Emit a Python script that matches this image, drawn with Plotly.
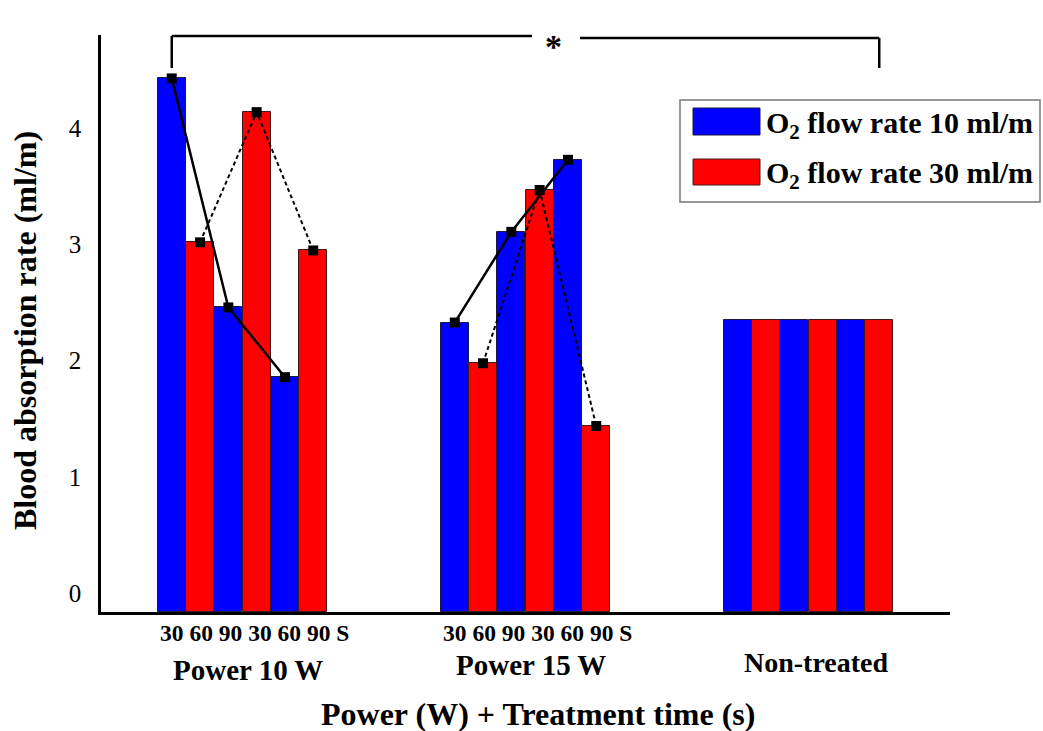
import plotly.graph_objects as go

# ---------------- data ----------------
groups = ["Power 10 W", "Power 15 W", "Non-treated"]
time_labels = "30 60 90 30 60 90 S"
series_names = ["O<sub>2</sub> flow rate 10 ml/m", "O<sub>2</sub> flow rate 30 ml/m"]
# three bars per group for each flow rate (30, 60, 90 s); non-treated is a constant reference
flow10 = [4.59, 2.62, 2.02, 2.49, 3.27, 3.89, 2.51, 2.51, 2.51]
flow30 = [3.18, 4.30, 3.11, 2.14, 3.63, 1.60, 2.51, 2.51, 2.51]
yticks = [0, 1, 2, 3, 4]
signif_mark = "*"

# ---------------- layout helpers ----------------
W, H = 1043, 731
L, R, T, B = 101, 950, 35, 612          # plot area in pixels
BAR_W = 0.0997
off10 = [-0.25, -0.05, 0.15]
off30 = [-0.15, 0.05, 0.25]
FONT = "Liberation Serif, Times New Roman, serif"
BLUE, RED = "#0000FF", "#FF0000"

def px(xp):
    return (xp - L) / (R - L)

def py(yp):
    return (B - yp) / (B - T)

x10 = [g + o for g in range(len(groups)) for o in off10]
x30 = [g + o for g in range(len(groups)) for o in off30]

fig = go.Figure()
fig.add_trace(go.Bar(x=x10, y=flow10, width=BAR_W, name=series_names[0],
                     marker=dict(color=BLUE, line=dict(color="#1a1a40", width=1)),
                     showlegend=False))
fig.add_trace(go.Bar(x=x30, y=flow30, width=BAR_W, name=series_names[1],
                     marker=dict(color=RED, line=dict(color="#401a1a", width=1)),
                     showlegend=False))

# connecting lines for the treated groups
def joined(xs, ys, ngroups=2):
    ox, oy = [], []
    for g in range(ngroups):
        ox += xs[3 * g:3 * g + 3] + [None]
        oy += ys[3 * g:3 * g + 3] + [None]
    return ox, oy

lx, ly = joined(x10, flow10)
fig.add_trace(go.Scatter(x=lx, y=ly, mode="lines+markers", showlegend=False,
                         line=dict(color="black", width=2.5),
                         marker=dict(symbol="square", size=10, color="black")))
lx, ly = joined(x30, flow30)
fig.add_trace(go.Scatter(x=lx, y=ly, mode="lines+markers", showlegend=False,
                         line=dict(color="black", width=2, dash="4px,3px"),
                         marker=dict(symbol="square", size=10, color="black")))

shapes = []
annotations = []

# significance bracket
x_left = x10[0]
x_right = x30[-1]
shapes += [
    dict(type="line", xref="x", yref="paper", x0=x_left, x1=x_left, y0=py(68), y1=py(36),
         line=dict(color="black", width=2.5)),
    dict(type="line", xref="x", yref="paper", x0=x_left, x1=(532 - 242.5) / 283, y0=py(36), y1=py(36),
         line=dict(color="black", width=2.5)),
    dict(type="line", xref="x", yref="paper", x0=(580 - 242.5) / 283, x1=x_right, y0=py(38), y1=py(38),
         line=dict(color="black", width=2.5)),
    dict(type="line", xref="x", yref="paper", x0=x_right, x1=x_right, y0=py(38), y1=py(68),
         line=dict(color="black", width=2.5)),
]
annotations.append(dict(text="<b>" + signif_mark + "</b>", xref="x", yref="paper",
                        x=(553 - 242.5) / 283, y=py(26), showarrow=False,
                        font=dict(family=FONT, size=34, color="black")))

# custom legend
shapes.append(dict(type="rect", xref="paper", yref="paper", x0=px(680), x1=px(1040),
                   y0=py(202), y1=py(100), line=dict(color="#777777", width=1.5),
                   fillcolor="white", layer="below"))
for i, (col, edge, top, bot) in enumerate([(BLUE, "#1a1a40", 108, 135), (RED, "#401a1a", 159, 185)]):
    shapes.append(dict(type="rect", xref="paper", yref="paper", x0=px(693), x1=px(760),
                       y0=py(bot), y1=py(top), fillcolor=col, line=dict(color=edge, width=1)))
    annotations.append(dict(text="<b>" + series_names[i] + "</b>", xref="paper", yref="paper",
                            x=px(764), y=py((top + bot) / 2 + 3), xanchor="left", yanchor="middle",
                            showarrow=False, font=dict(family=FONT, size=30, color="black")))

# x-axis labels
for g in range(2):
    annotations.append(dict(text="<b>" + time_labels + "</b>", xref="x", yref="paper",
                            x=g - 0.3, y=py(633), xanchor="left", yanchor="middle",
                            showarrow=False, font=dict(family=FONT, size=23.5, color="black")))
group_y = [670, 665, 662]
group_sz = [29, 29, 28]
group_dx = [0.02, 0.02, 0.03]
for g, name in enumerate(groups):
    annotations.append(dict(text="<b>" + name + "</b>", xref="x", yref="paper",
                            x=g + group_dx[g], y=py(group_y[g]), yanchor="middle",
                            showarrow=False, font=dict(family=FONT, size=group_sz[g], color="black")))
annotations.append(dict(text="<b>Power (W) + Treatment time (s)</b>", xref="paper", yref="paper",
                        x=px(538), y=py(714), yanchor="middle", showarrow=False,
                        font=dict(family=FONT, size=32, color="black")))
annotations.append(dict(text="<b>Blood absorption rate (ml/m)</b>", xref="paper", yref="paper",
                        x=px(25), y=py(331), textangle=-90, xanchor="center", yanchor="middle",
                        showarrow=False, font=dict(family=FONT, size=32, color="black")))

fig.update_layout(
    width=W, height=H,
    margin=dict(l=L, r=W - R, t=T, b=H - B, pad=0),
    paper_bgcolor="white", plot_bgcolor="white",
    barmode="overlay", bargap=0,
    shapes=shapes, annotations=annotations,
    font=dict(family=FONT, color="black"),
    xaxis=dict(range=[-0.5, 2.5], showline=True, linecolor="black", linewidth=3,
               showgrid=False, zeroline=False, showticklabels=False, ticks=""),
    yaxis=dict(range=[0, (B - T) / 116.25], showline=True, linecolor="black", linewidth=2.5,
               showgrid=False, zeroline=False, ticks="", tickvals=yticks,
               ticktext=[str(v) for v in yticks], ticklabelshift=-19, ticklabelstandoff=12,
               tickfont=dict(family=FONT, size=25, color="black")),
)

fig.write_html("out.html", config={"displayModeBar": False},
               post_script="document.body.style.margin='0';")
